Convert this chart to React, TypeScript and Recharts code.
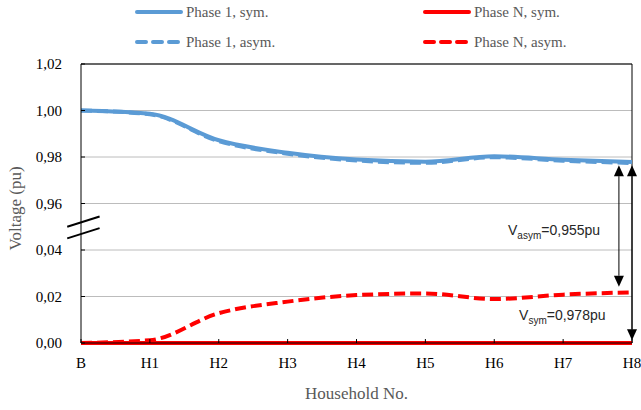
import {
  LineChart,
  Line,
  XAxis,
  YAxis,
  CartesianGrid,
  Legend,
  ReferenceLine,
  ReferenceDot
} from 'recharts';

// household positions along the feeder
const categories = ['B', 'H1', 'H2', 'H3', 'H4', 'H5', 'H6', 'H7', 'H8'];

// voltages in pu
const phase1Sym = [1.0, 0.9986, 0.9872, 0.9818, 0.9789, 0.978, 0.9803, 0.9788, 0.9778];
const phase1Asym = [1.0, 0.9984, 0.9868, 0.9814, 0.9785, 0.9775, 0.9799, 0.9784, 0.9774];
const phaseNSym = [0, 0, 0, 0, 0, 0, 0, 0, 0];
const phaseNAsym = [0, 0.0012, 0.0128, 0.0178, 0.0206, 0.0213, 0.0189, 0.0208, 0.0218];

// broken y axis: lower part 0..0,04, upper part 0,96..1,02
const yTickValues = [0, 0.02, 0.04, 0.96, 0.98, 1.0, 1.02];
const yTickLabels = ['0,00', '0,02', '0,04', '0,96', '0,98', '1,00', '1,02'];

// annotation values (pu)
const asymArrow = [0.9765, 0.0242];
const symArrow = [0.9765, 0.0012];
const asymLabel = { value: '0,955', at: 0.9466 };
const symLabel = { value: '0,978', at: 0.0098 };

const toAxis = (v: number) => (v > 0.5 ? 3 + (v - 0.96) / 0.02 : v / 0.02);

const BLUE = '#5b9bd5';
const RED = '#ff0000';
const SERIF = '"Liberation Serif", "Times New Roman", serif';

const series = [
  { key: 'p1sym', name: 'Phase 1, sym.', color: BLUE, dash: undefined as string | undefined, values: phase1Sym },
  { key: 'p1asym', name: 'Phase 1, asym.', color: BLUE, dash: '11 5', values: phase1Asym },
  { key: 'pnsym', name: 'Phase N, sym.', color: RED, dash: undefined as string | undefined, values: phaseNSym },
  { key: 'pnasym', name: 'Phase N, asym.', color: RED, dash: '11 5', values: phaseNAsym }
];

const chartData = categories.map((c, i) => {
  const row: any = { x: i, label: c };
  series.forEach(s => {
    row[s.key] = toAxis(s.values[i]);
  });
  return row;
});

const yTicks = yTickValues.map(toAxis);

function LegendBox() {
  const slots = [
    { left: 135, top: 2 },
    { left: 135, top: 32 },
    { left: 423, top: 2 },
    { left: 423, top: 32 }
  ];
  return (
    <div style={{ position: 'relative', width: 641, height: 56 }}>
      {series.map((s, i) => (
        <div
          key={s.key}
          style={{
            position: 'absolute',
            left: slots[i].left,
            top: slots[i].top,
            display: 'flex',
            alignItems: 'center',
            height: 20,
            fontFamily: SERIF,
            fontSize: 15,
            color: '#595959'
          }}
        >
          <svg width={48} height={10}>
            <line x1={2} y1={5} x2={46} y2={5} stroke={s.color} strokeWidth={4} strokeLinecap="round" strokeDasharray={s.dash ? '9 7' : undefined} />
          </svg>
          <span style={{ marginLeft: 3 }}>{s.name}</span>
        </div>
      ))}
    </div>
  );
}

function YTick(props: any) {
  const { x, y, payload } = props;
  const idx = yTicks.indexOf(payload.value);
  return (
    <g>
      <line x1={x + 19} y1={y} x2={x + 23} y2={y} stroke="#000" strokeWidth={1} />
      <text x={x} y={y} dy="0.35em" textAnchor="end" fontFamily={SERIF} fontSize={15} fill="#000">
        {yTickLabels[idx]}
      </text>
    </g>
  );
}

function XTick(props: any) {
  const { x, y, payload } = props;
  return (
    <g>
      <line x1={x} y1={y - 14} x2={x} y2={y - 18} stroke="#000" strokeWidth={1} />
      <text x={x} y={y} dy="0.75em" textAnchor="middle" fontFamily={SERIF} fontSize={15} fill="#000">
        {categories[payload.value]}
      </text>
    </g>
  );
}

function YTitle(props: any) {
  const { viewBox } = props;
  const cx = 15;
  const cy = viewBox.y + viewBox.height / 2 + 5;
  return (
    <text
      x={cx}
      y={cy}
      transform={`rotate(-90 ${cx} ${cy})`}
      textAnchor="middle"
      dominantBaseline="central"
      fontFamily={SERIF}
      fontSize={17}
      fill="#595959"
    >
      Voltage (pu)
    </text>
  );
}

function XTitle(props: any) {
  const { viewBox } = props;
  const cx = viewBox.x + viewBox.width / 2;
  return (
    <text x={cx} y={393} textAnchor="middle" dominantBaseline="central" fontFamily={SERIF} fontSize={17} fill="#595959">
      Household No.
    </text>
  );
}

function Arrow(props: any) {
  const { x1, y1, x2, y2 } = props;
  const top = Math.min(y1, y2);
  const bottom = Math.max(y1, y2);
  const x = x1;
  const w = 5;
  const h = 11;
  return (
    <g>
      <line x1={x} y1={top + h} x2={x2} y2={bottom - h} stroke="#000" strokeWidth={props.strokeWidth || 1} />
      <polygon points={`${x},${top} ${x - w},${top + h} ${x + w},${top + h}`} fill="#000" />
      <polygon points={`${x},${bottom} ${x - w},${bottom - h} ${x + w},${bottom - h}`} fill="#000" />
    </g>
  );
}

function Note(sub: string, value: string) {
  return (props: any) => {
    const { cx, cy } = props;
    return (
      <text x={cx} y={cy} fontFamily='"Liberation Sans", Arial, sans-serif' fontSize={14} fill="#262626">
        V
        <tspan fontSize={10} dy={4}>{sub}</tspan>
        <tspan dy={-4}>={value}pu</tspan>
      </text>
    );
  };
}

export default function App() {
  return (
    <div style={{ position: 'absolute', left: 0, top: 0, background: '#fff' }}>
      <LineChart width={641} height={410} data={chartData} margin={{ top: 8, right: 9, left: 0, bottom: 37 }}>
        <CartesianGrid stroke="#bcbcbc" strokeWidth={1} vertical={false} />
        <XAxis
          dataKey="x"
          type="number"
          domain={[0, 8]}
          ticks={[0, 1, 2, 3, 4, 5, 6, 7, 8]}
          interval={0}
          tickSize={0}
          tickMargin={14}
          tick={<XTick />}
          axisLine={{ stroke: '#000' }}
          height={30}
          label={<XTitle />}
        />
        <YAxis
          type="number"
          domain={[0, 6]}
          ticks={yTicks}
          interval={0}
          width={81}
          tickSize={0}
          tickMargin={19}
          tick={<YTick />}
          axisLine={{ stroke: '#000' }}
          label={<YTitle />}
        />
        <Legend verticalAlign="top" align="left" height={56} wrapperStyle={{ top: 0, left: 0 }} content={() => <LegendBox />} />
        <ReferenceLine y={6} stroke="#000" strokeWidth={1} />
        <ReferenceLine x={8} stroke="#000" strokeWidth={1} />
        <ReferenceLine
          segment={[{ x: -0.2, y: 2.5 }, { x: 0.27, y: 2.72 }]}
          stroke="#000"
          strokeWidth={2}
          ifOverflow="visible"
        />
        <ReferenceLine
          segment={[{ x: -0.2, y: 2.25 }, { x: 0.27, y: 2.47 }]}
          stroke="#000"
          strokeWidth={2}
          ifOverflow="visible"
        />
        {series.map(s => (
          <Line
            key={s.key}
            type="monotone"
            dataKey={s.key}
            name={s.name}
            stroke={s.color}
            strokeWidth={4}
            strokeDasharray={s.dash}
            dot={false}
            activeDot={false}
            isAnimationActive={false}
          />
        ))}
        <ReferenceLine
          segment={[{ x: 7.81, y: toAxis(asymArrow[0]) }, { x: 7.81, y: toAxis(asymArrow[1]) }]}
          shape={<Arrow strokeWidth={1} />}
          ifOverflow="visible"
        />
        <ReferenceLine
          segment={[{ x: 8, y: toAxis(symArrow[0]) }, { x: 8, y: toAxis(symArrow[1]) }]}
          shape={<Arrow strokeWidth={2} />}
          ifOverflow="visible"
        />
        <ReferenceDot x={6.2} y={toAxis(asymLabel.at)} r={0} ifOverflow="visible" shape={Note('asym', asymLabel.value)} />
        <ReferenceDot x={6.36} y={toAxis(symLabel.at)} r={0} ifOverflow="visible" shape={Note('sym', symLabel.value)} />
      </LineChart>
    </div>
  );
}
